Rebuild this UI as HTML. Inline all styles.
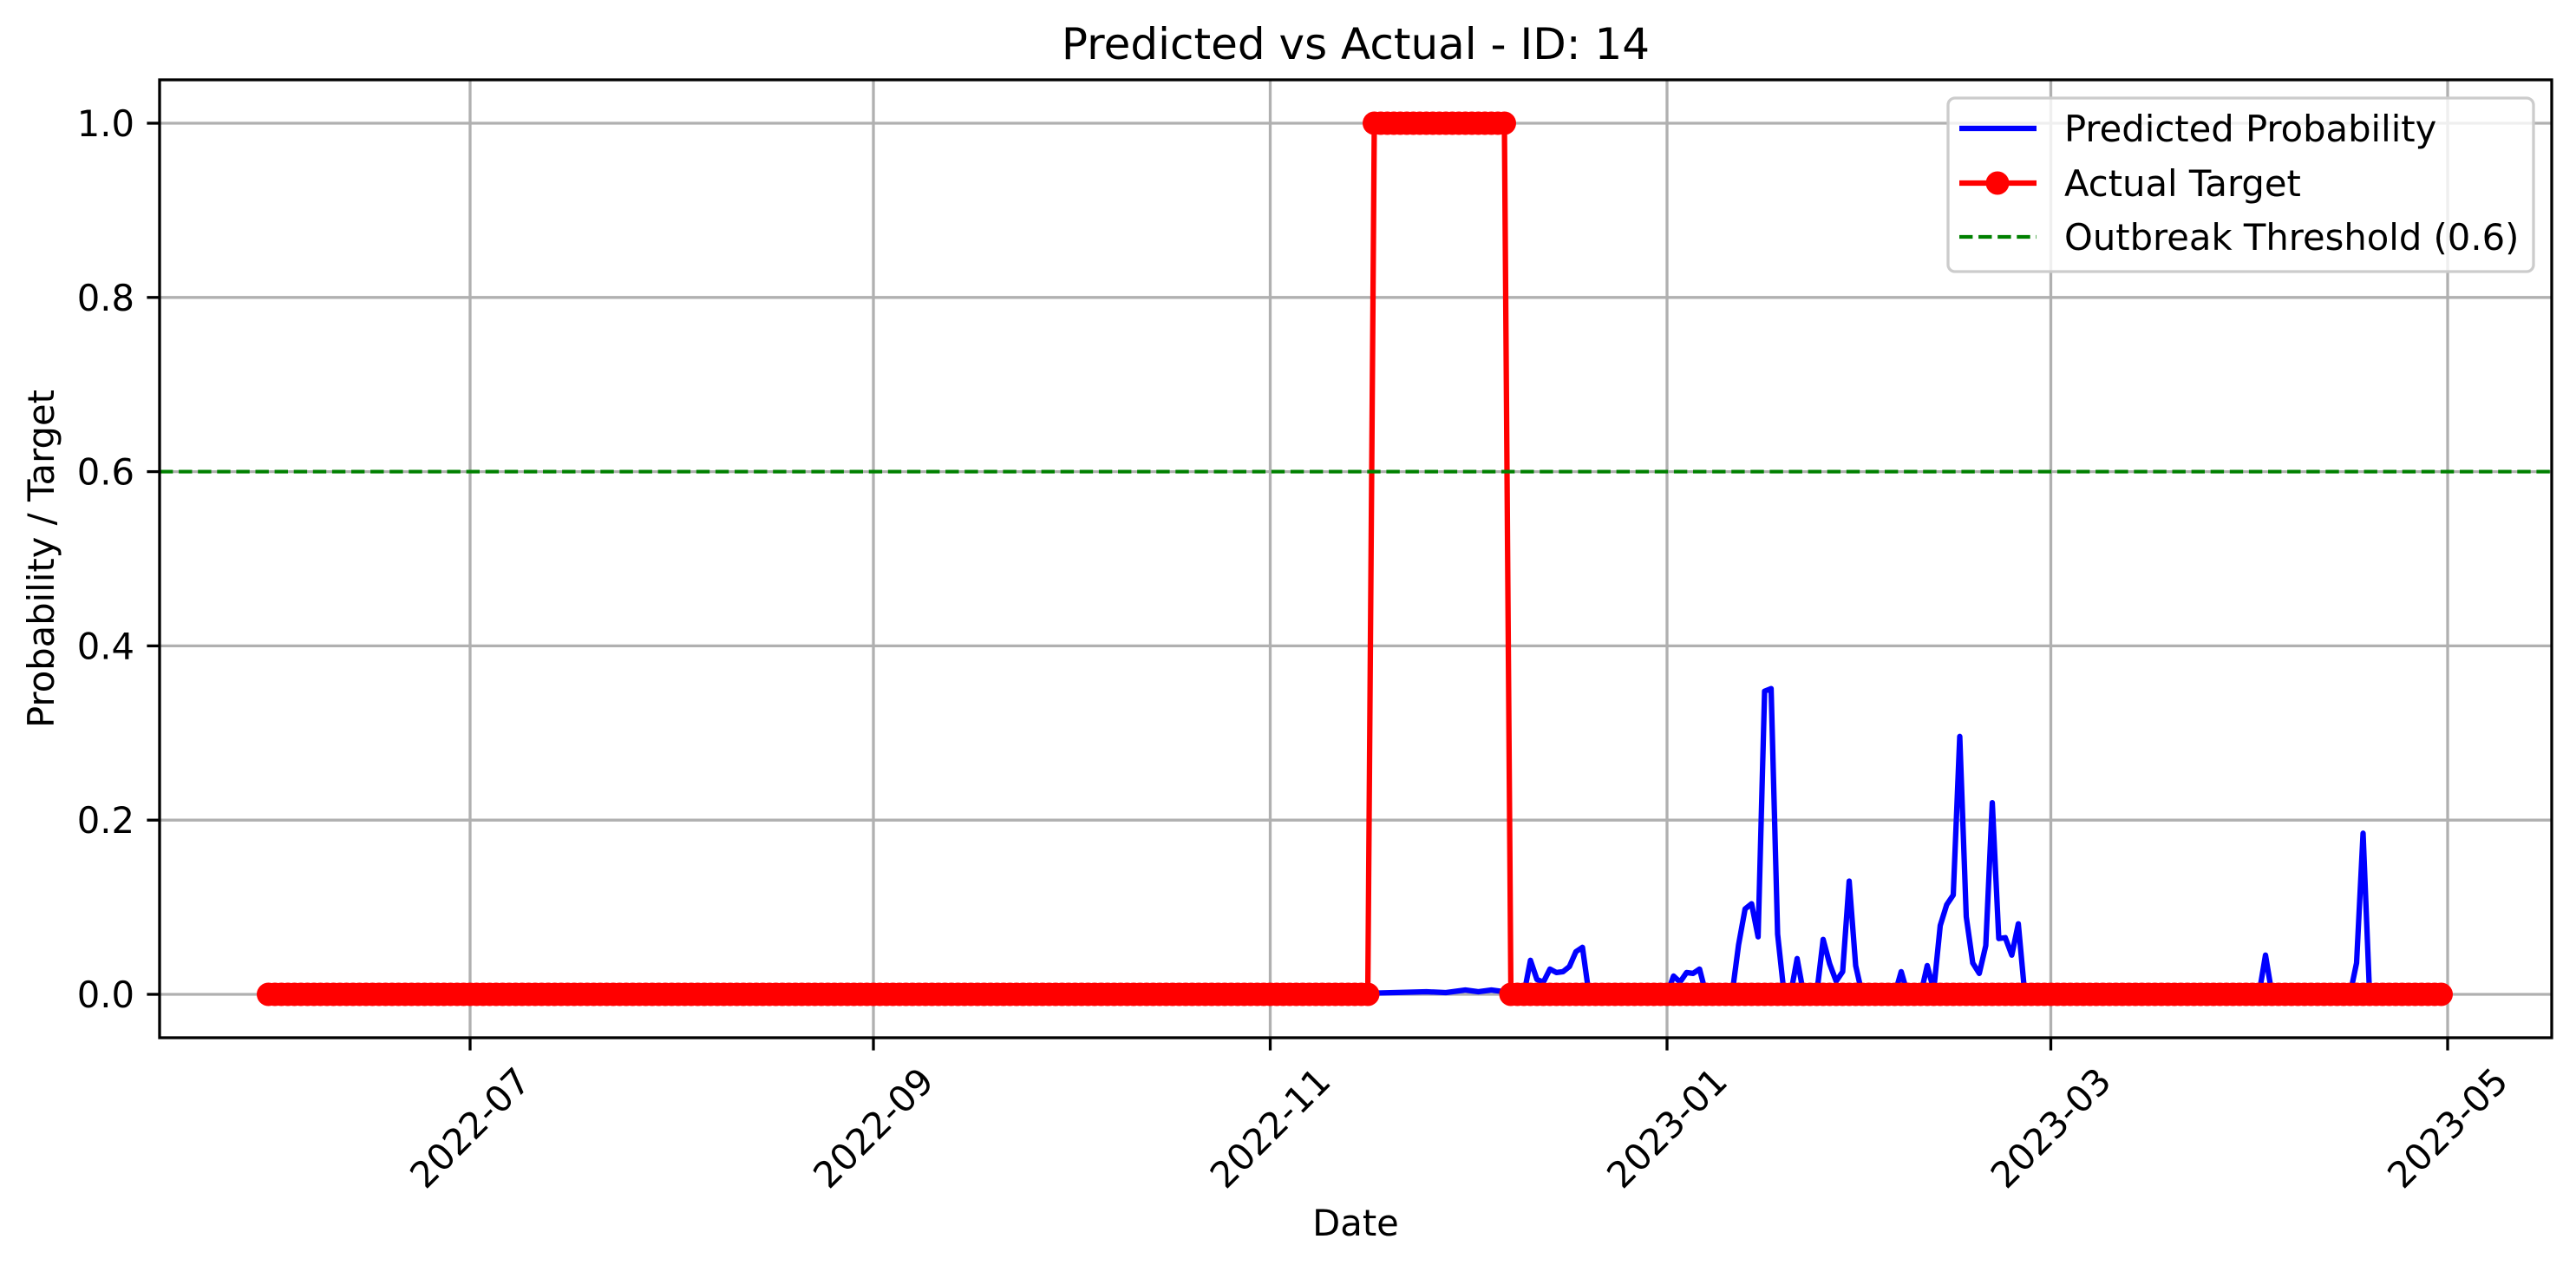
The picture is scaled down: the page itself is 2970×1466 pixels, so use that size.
<!DOCTYPE html>
<html><head><meta charset="utf-8"><style>
html,body{margin:0;padding:0;background:#fff;}
svg{display:block;font-family:"DejaVu Sans","Liberation Sans",sans-serif;}
</style></head><body>
<svg id="chart" width="2970" height="1466" viewBox="0 0 2970 1466" xmlns="http://www.w3.org/2000/svg">
<rect x="0" y="0" width="2970" height="1466" fill="#fff"/>
<g id="grid"></g>
<g id="series"></g>
<g id="axes"></g>
<text x="1563" y="68" font-size="50" text-anchor="middle">Predicted vs Actual - ID: 14</text>
<text x="1563" y="1424" font-size="41.7" text-anchor="middle">Date</text>
<text transform="translate(62,644) rotate(-90)" font-size="41.7" text-anchor="middle">Probability / Target</text>
<g id="legend"></g>
</svg>
<script>
const xTickLabels = ["2022-07","2022-09","2022-11","2023-01","2023-03","2023-05"];
const xTickDates = ["2022-07-01","2022-09-01","2022-11-01","2023-01-01","2023-03-01","2023-05-01"];
const yTickValues = [0.0,0.2,0.4,0.6,0.8,1.0];
const yTickLabels = ["0.0","0.2","0.4","0.6","0.8","1.0"];
const threshold = 0.6;
const actualStart = "2022-05-31";
const actualRunLengths = [170,21,144];
const actualRunValues = [0,1,0];
const predDates = ["2022-05-31","2022-11-15","2022-11-25","2022-11-28","2022-12-01","2022-12-03","2022-12-05","2022-12-08","2022-12-10",
"2022-12-11","2022-12-12","2022-12-13","2022-12-14","2022-12-15","2022-12-16","2022-12-17","2022-12-18","2022-12-19","2022-12-20",
"2023-01-01","2023-01-02","2023-01-03","2023-01-04","2023-01-05","2023-01-06","2023-01-07",
"2023-01-11","2023-01-12","2023-01-13","2023-01-14","2023-01-15","2023-01-16","2023-01-17","2023-01-18","2023-01-19","2023-01-20","2023-01-21","2023-01-22",
"2023-01-24","2023-01-25","2023-01-26","2023-01-27","2023-01-28","2023-01-29","2023-01-30","2023-01-31",
"2023-02-05","2023-02-06","2023-02-07","2023-02-09","2023-02-10","2023-02-11","2023-02-12","2023-02-13","2023-02-14","2023-02-15","2023-02-16","2023-02-17","2023-02-18","2023-02-19","2023-02-20","2023-02-21","2023-02-22","2023-02-23","2023-02-24","2023-02-25",
"2023-04-02","2023-04-03","2023-04-04","2023-04-16","2023-04-17","2023-04-18","2023-04-19","2023-04-30"];
const predValues = [0,0.001,0.003,0.002,0.005,0.003,0.005,0.002,0,
0.039,0.017,0.014,0.029,0.025,0.026,0.032,0.049,0.054,0,
0,0.021,0.014,0.025,0.024,0.029,0,
0,0.057,0.098,0.104,0.066,0.348,0.351,0.069,0,0,0.041,0,
0,0.063,0.035,0.015,0.026,0.130,0.033,0,
0,0.026,0,0,0.033,0.005,0.079,0.103,0.114,0.296,0.089,0.036,0.024,0.056,0.220,0.064,0.065,0.045,0.081,0,
0,0.045,0,0,0.036,0.185,0,0];

const NS="http://www.w3.org/2000/svg";
const L=184,R=2942,T=92,B=1196;
const DAY=86400000, ORIGIN=Date.UTC(2022,6,1);
function xs(d){const t=(typeof d==="string")?Date.parse(d+"T00:00:00Z"):d;return 542+7.5*(t-ORIGIN)/DAY;}
function ys(v){return 1146-1004*v;}
function mk(tag,attrs,parent){const e=document.createElementNS(NS,tag);for(const k in attrs)e.setAttribute(k,attrs[k]);parent.appendChild(e);return e;}

const grid=document.getElementById('grid'),axes=document.getElementById('axes'),series=document.getElementById('series'),legend=document.getElementById('legend');
// grid
xTickDates.forEach((d,i)=>{const x=xs(d);
 const g=mk('line',{x1:x,x2:x,y1:T,y2:B,stroke:'#b0b0b0','stroke-width':3.3},grid);
 
 
 const t=mk('line',{x1:x,x2:x,y1:B,y2:B+14.6,stroke:'#000','stroke-width':3.3},axes);
 
 
 const lb=mk('text',{transform:`translate(${x},1300) rotate(-45)`,'font-size':41.7,'text-anchor':'middle','dominant-baseline':'central'},axes);
 lb.textContent=xTickLabels[i];
 
 
});
yTickValues.forEach((v,i)=>{const y=ys(v);
 const g=mk('line',{x1:L,x2:R,y1:y,y2:y,stroke:'#b0b0b0','stroke-width':3.3},grid);
 
 
 const t=mk('line',{x1:L-14.6,x2:L,y1:y,y2:y,stroke:'#000','stroke-width':3.3},axes);
 
 
 const lb=mk('text',{x:155,y:y+15,'font-size':41.7,'text-anchor':'end'},axes);
 lb.textContent=yTickLabels[i];
 
 
});
const frame=mk('rect',{x:L,y:T,width:R-L,height:B-T,fill:'none',stroke:'#000','stroke-width':3.3},axes);



// predicted line
const pp=predDates.map((d,i)=>xs(d).toFixed(1)+','+ys(predValues[i]).toFixed(1)).join(' ');
const pl=mk('polyline',{points:pp,fill:'none',stroke:'#0000ff','stroke-width':6.25,'stroke-linejoin':'round','stroke-linecap':'square'},series);



// actual target
const aT=[],aV=[];let t0=Date.parse(actualStart+"T00:00:00Z");
actualRunLengths.forEach((n,ri)=>{for(let k=0;k<n;k++){aT.push(t0);aV.push(actualRunValues[ri]);t0+=DAY;}});
const ap=aT.map((t,i)=>xs(t).toFixed(1)+','+ys(aV[i]).toFixed(1)).join(' ');
const al=mk('polyline',{points:ap,fill:'none',stroke:'#ff0000','stroke-width':6.25,'stroke-linejoin':'round','stroke-linecap':'square'},series);


aT.forEach((t,i)=>{const c=mk('circle',{cx:xs(t).toFixed(1),cy:ys(aV[i]).toFixed(1),r:13.5,fill:'#ff0000'},series);
 
 });

// threshold
const th=mk('line',{x1:L,x2:R,y1:ys(threshold),y2:ys(threshold),stroke:'#008000','stroke-width':4.17,'stroke-dasharray':'15.4 6.7'},series);



// legend
const lbox=mk('rect',{x:2246,y:113,width:675,height:200,rx:8,fill:'#fff','fill-opacity':0.8,stroke:'#cccccc','stroke-width':3.3},legend);


const entries=[["Predicted Probability",148,"#0000ff",null,false],["Actual Target",211,"#ff0000",null,true],["Outbreak Threshold (0.6)",273,"#008000","15.4 6.7",false]];
entries.forEach(e=>{
 const g=mk('g',{},legend);
 
 
 const a={x1:2259,x2:2348,y1:e[1],y2:e[1],stroke:e[2],'stroke-width':e[3]?4.17:6.25};
 if(e[3])a['stroke-dasharray']=e[3];
 mk('line',a,g);
 if(e[4])mk('circle',{cx:2303,cy:e[1],r:13.5,fill:'#ff0000'},g);
 const tx=mk('text',{x:2380,y:e[1]+15,'font-size':41.7},g);
 tx.textContent=e[0];
});
</script>
</body></html>
